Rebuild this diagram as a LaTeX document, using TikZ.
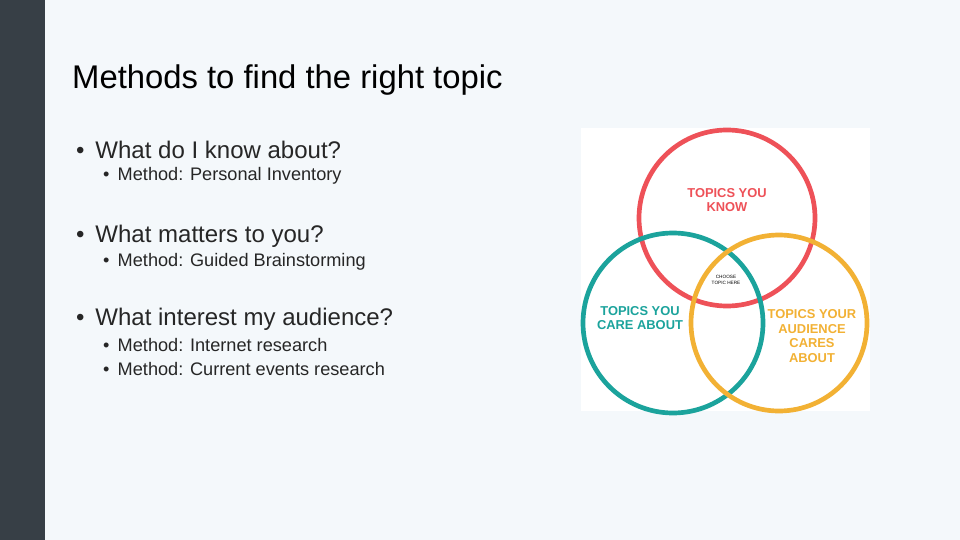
\documentclass[tikz,border=0pt]{standalone}
\usepackage{fontspec}
\setmainfont{Liberation Sans}
\usetikzlibrary{positioning}
\definecolor{bgcol}{HTML}{F4F8FB}
\definecolor{barcol}{HTML}{373F46}
\definecolor{knowred}{HTML}{EE5158}
\definecolor{careteal}{HTML}{1BA39C}
\definecolor{audorange}{HTML}{F2B134}
\newcommand{\blt}{\makebox[0.8em][l]{\textbullet}}
\tikzset{
	item/.style={anchor=west, inner sep=0pt, font=\fontsize{20.5}{22}\selectfont, text=black!85},
	subitem/.style={anchor=west, inner sep=0pt, font=\fontsize{15.5}{17}\selectfont, text=black!85},
	ring/.style={line width=4pt},
	venntext/.style={align=center, font=\bfseries\fontsize{11}{12.5}\selectfont}
}
\begin{document}
\begin{tikzpicture}[x=0.03cm, y=-0.03cm]
		\fill[bgcol] (0,0) rectangle (960,540);
		\fill[barcol] (0,0) rectangle (45,540);

		\node[anchor=west, inner sep=0pt, font=\fontsize{28}{30}\selectfont] (title) at (72,80) {Methods to find the right topic};

		\node[item] (b1) at (76,150) {\blt What do I know about?};
		\node[subitem] (s1) at (103,176) {\blt Method: Personal Inventory};
		\node[item] (b2) at (76,236) {\blt What matters to you?};
		\node[subitem] (s2) at (103,262) {\blt Method: Guided Brainstorming};
		\node[item] (b3) at (76,319) {\blt What interest my audience?};
		\node[subitem] (s3) at (103,345) {\blt Method: Internet research};
		\node[subitem] (s4) at (103,369) {\blt Method: Current events research};

		% venn picture
		\fill[white] (581,128) rectangle (870,411);
		\draw[ring, knowred] (727,218) circle (88);
		\draw[ring, careteal] (673,323) circle (90);
		\draw[ring, audorange] (779,323) circle (88);

		\node[venntext, text=knowred] (know) at (727,200) {TOPICS YOU\\KNOW};
		\node[venntext, text=careteal] (care) at (640,318) {TOPICS YOU\\CARE ABOUT};
		\node[venntext, text=audorange] (aud) at (812,336) {TOPICS YOUR\\AUDIENCE\\CARES\\ABOUT};
		\node[align=center, font=\fontsize{4}{4.5}\selectfont] (pick) at (726,280) {CHOOSE\\TOPIC HERE};
	\end{tikzpicture}
\end{document}
